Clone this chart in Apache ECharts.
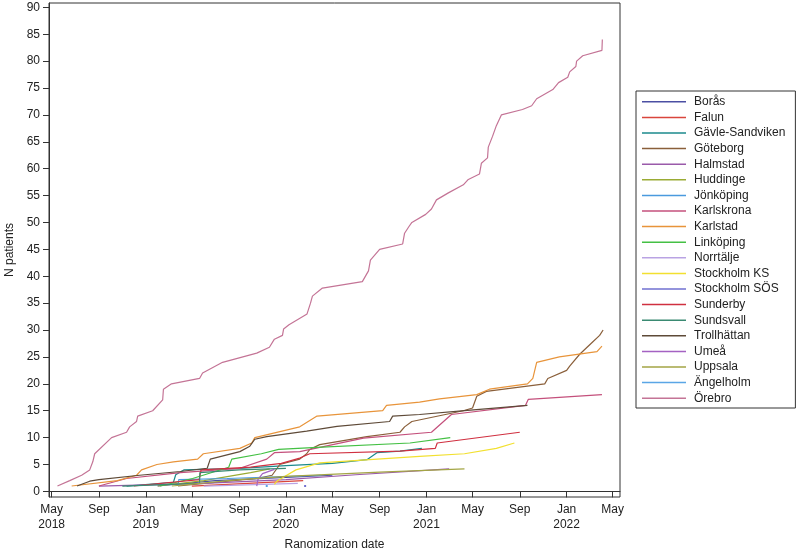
<!DOCTYPE html>
<html>
<head>
<meta charset="utf-8">
<script src="https://cdn.jsdelivr.net/npm/echarts@6/dist/echarts.min.js"></script>
<style>
  html, body { margin: 0; padding: 0; background: #fff; }
  #main { width: 800px; height: 551px; }
</style>
</head>
<body>
<div id="main"></div>
<script>
// sites, in legend order
const sites = ['Borås', 'Falun', 'Gävle-Sandviken', 'Göteborg', 'Halmstad', 'Huddinge', 'Jönköping',
  'Karlskrona', 'Karlstad', 'Linköping', 'Norrtälje', 'Stockholm KS', 'Stockholm SÖS', 'Sunderby',
  'Sundsvall', 'Trollhättan', 'Umeå', 'Uppsala', 'Ängelholm', 'Örebro'];

const colors = ['#4b4fa3', '#d9463c', '#1b8a8c', '#8a5f3a', '#9a5aaa', '#9aab34', '#4a9ade',
  '#c4507c', '#e8943a', '#44c044', '#b9a3e3', '#f2e030', '#7070d0', '#d03040',
  '#3a8a72', '#5e4a38', '#a462c2', '#a3a544', '#5aa6e6', '#c47496'];

// cumulative number of randomized patients per site, [date, N]
const boras = [['2019-02-01', 1], ['2019-07-01', 2], ['2020-01-01', 2.6], ['2020-05-01', 3]];
const falun = [['2019-05-01', 1], ['2020-02-15', 2]];
const gavle = [['2018-11-12', 1], ['2019-03-14', 1.7], ['2019-03-20', 3.1], ['2019-04-10', 4], ['2019-09-03', 4.3],
  ['2020-01-01', 4.8], ['2020-05-01', 5.2], ['2020-07-30', 5.9], ['2020-08-25', 7.2], ['2020-10-24', 7.5], ['2020-12-20', 8]];
const goteborg = [['2019-03-26', 1], ['2019-10-17', 2.4], ['2019-11-26', 3], ['2019-12-16', 5], ['2020-02-06', 6],
  ['2020-02-24', 7], ['2020-03-03', 7.8], ['2020-03-29', 8.7], ['2020-07-30', 10.2], ['2020-10-24', 11],
  ['2020-11-05', 12], ['2020-11-24', 13], ['2021-04-07', 15], ['2021-05-01', 15.5], ['2021-05-12', 17.7],
  ['2021-06-06', 18.6], ['2021-11-05', 20], ['2021-11-13', 21], ['2022-01-01', 22.5], ['2022-01-09', 23.3],
  ['2022-02-04', 25.5], ['2022-03-07', 27.6], ['2022-03-28', 29], ['2022-04-06', 30]];
const halmstad = [['2018-09-01', 1], ['2019-06-01', 1.5], ['2020-01-01', 2.2], ['2020-07-01', 3.1], ['2021-03-01', 4.2]];
const huddinge = [['2019-02-01', 1], ['2019-06-01', 2], ['2019-10-01', 3.5], ['2019-11-20', 4.2]];
const jonkoping = [['2019-03-26', 1], ['2019-03-28', 2.2], ['2019-08-01', 2.4], ['2020-04-01', 3]];
const karlskrona = [['2018-09-01', 1], ['2018-11-12', 2.4], ['2019-04-01', 3.5], ['2019-09-03', 4.3], ['2019-11-12', 6],
  ['2019-12-02', 7.2], ['2020-02-06', 7.4], ['2020-07-21', 9.9], ['2021-01-14', 11], ['2021-03-07', 14.3],
  ['2021-09-16', 16], ['2021-09-23', 17.1], ['2022-04-03', 18]];
const karlstad = [['2018-06-22', 1], ['2018-10-19', 2], ['2018-12-08', 3], ['2018-12-21', 4], ['2019-01-30', 5],
  ['2019-03-14', 5.5], ['2019-05-16', 6], ['2019-05-31', 7], ['2019-09-03', 8], ['2019-10-04', 9],
  ['2019-10-12', 10], ['2020-02-06', 12], ['2020-03-22', 14], ['2020-09-09', 15], ['2020-09-19', 16],
  ['2020-12-14', 16.6], ['2021-02-04', 17.2], ['2021-05-12', 18], ['2021-06-14', 19], ['2021-09-21', 20],
  ['2021-10-05', 21], ['2021-10-15', 24], ['2021-12-13', 25], ['2022-03-21', 26], ['2022-04-03', 27]];
const linkoping = [['2019-02-07', 1], ['2019-05-03', 2.4], ['2019-08-05', 4.5], ['2019-08-13', 6], ['2019-10-29', 7],
  ['2019-12-13', 7.8], ['2019-12-18', 8.1], ['2020-03-22', 8.2], ['2020-11-19', 9], ['2021-03-04', 10]];
const norrtalje = [['2019-06-01', 1], ['2020-02-01', 1.5]];
const stockholmKS = [['2019-12-02', 1.3], ['2019-12-10', 2], ['2020-01-27', 4], ['2020-03-29', 5.3], ['2020-12-14', 6.5],
  ['2021-04-10', 7], ['2021-07-02', 8], ['2021-08-18', 9]];
const stockholmSOS = [['2020-02-20', 1]];
const sunderby = [['2018-12-01', 1], ['2019-05-20', 2.2], ['2019-05-25', 4], ['2019-10-01', 4.5], ['2019-12-20', 5.2],
  ['2020-02-06', 6.2], ['2020-03-03', 7], ['2020-10-24', 7.5], ['2021-01-24', 8], ['2021-01-29', 9], ['2021-09-01', 11]];
const sundsvall = [['2018-11-01', 1], ['2019-05-21', 1.5], ['2019-05-22', 3.5], ['2019-09-01', 4], ['2020-01-01', 4.3]];
const trollhattan = [['2018-07-06', 1], ['2018-08-08', 1.9], ['2018-09-01', 2.2], ['2018-12-16', 3], ['2019-04-01', 3.7],
  ['2019-06-10', 4.3], ['2019-06-18', 6], ['2019-09-03', 7.4], ['2019-09-29', 8.4], ['2019-10-12', 9.7],
  ['2019-11-12', 10.2], ['2020-02-24', 11.2], ['2020-05-13', 12.1], ['2020-09-27', 13], ['2020-10-05', 14],
  ['2020-12-14', 14.3], ['2021-04-10', 15], ['2021-09-21', 16]];
const umea = [['2019-10-17', 1], ['2019-10-20', 2.2], ['2019-11-01', 3.3], ['2019-12-02', 4.1]];
const uppsala = [['2019-03-10', 1], ['2019-09-01', 2.2], ['2020-01-01', 2.8], ['2020-09-01', 3.6], ['2021-04-10', 4.2]];
const angelholm = [['2019-11-12', 1]];
const orebro = [['2018-05-16', 1], ['2018-06-17', 2], ['2018-07-18', 3], ['2018-08-08', 4], ['2018-08-16', 5.5],
  ['2018-08-21', 7], ['2018-10-04', 10], ['2018-11-12', 11], ['2018-11-20', 12], ['2018-12-08', 13],
  ['2018-12-11', 14], ['2019-01-19', 15], ['2019-02-14', 17], ['2019-02-16', 19], ['2019-03-09', 20],
  ['2019-05-21', 21], ['2019-05-29', 22], ['2019-07-20', 24], ['2019-10-17', 25.7], ['2019-11-19', 26.8],
  ['2019-12-02', 28.3], ['2019-12-23', 29], ['2019-12-26', 30.2], ['2020-01-09', 31], ['2020-02-25', 33],
  ['2020-03-05', 35], ['2020-03-10', 36.3], ['2020-04-05', 37.8], ['2020-07-18', 39], ['2020-08-03', 41],
  ['2020-08-08', 43], ['2020-09-01', 45], ['2020-10-31', 46], ['2020-11-05', 48], ['2020-11-16', 49.2],
  ['2020-11-24', 50], ['2020-12-30', 51.5], ['2021-01-14', 52.5], ['2021-01-27', 54.2], ['2021-02-27', 55.5],
  ['2021-04-07', 57], ['2021-04-20', 58], ['2021-05-19', 59], ['2021-05-24', 61], ['2021-06-09', 62],
  ['2021-06-11', 64], ['2021-06-22', 66], ['2021-07-02', 68], ['2021-07-15', 70], ['2021-09-08', 71],
  ['2021-10-02', 71.7], ['2021-10-15', 73], ['2021-11-26', 74.7], ['2021-12-11', 76], ['2022-01-04', 77],
  ['2022-01-09', 78], ['2022-01-25', 79], ['2022-01-27', 80], ['2022-02-12', 81], ['2022-04-03', 82], ['2022-04-04', 84]];

const siteData = [boras, falun, gavle, goteborg, halmstad, huddinge, jonkoping, karlskrona, karlstad, linkoping,
  norrtalje, stockholmKS, stockholmSOS, sunderby, sundsvall, trollhattan, umea, uppsala, angelholm, orebro];

// axis ticks
const tickDates = ['2018-05-01', '2018-09-01', '2019-01-01', '2019-05-01', '2019-09-01', '2020-01-01', '2020-05-01',
  '2020-09-01', '2021-01-01', '2021-05-01', '2021-09-01', '2022-01-01', '2022-05-01'];
const tickLabels = ['May\n2018', 'Sep', 'Jan\n2019', 'May', 'Sep', 'Jan\n2020', 'May', 'Sep', 'Jan\n2021', 'May', 'Sep', 'Jan\n2022', 'May'];
const yTicks = [0, 5, 10, 15, 20, 25, 30, 35, 40, 45, 50, 55, 60, 65, 70, 75, 80, 85, 90];

// dates as day numbers (UTC days since epoch) for a plain value axis
function toDay(s) {
  const p = s.split('-');
  return Date.UTC(+p[0], +p[1] - 1, +p[2]) / 86400000;
}
const tickDays = tickDates.map(toDay);
const labelOf = {};
tickDays.forEach((t, i) => { labelOf[t] = tickLabels[i]; });

const font = 'Liberation Sans, Arial, sans-serif';

var myChart = echarts.init(document.getElementById('main'));
myChart.setOption({
  animation: false,
  color: colors,
  textStyle: { fontFamily: font },
  grid: {
    left: 49, right: 180, top: 3, bottom: 54,
    outerBoundsMode: 'none',
    show: true, borderColor: '#333', borderWidth: 1
  },
  legend: {
    orient: 'vertical',
    left: 636, top: 91,
    icon: 'rect',
    itemWidth: 44, itemHeight: 1.5,
    itemGap: 0,
    padding: [3, 10, 2, 6],
    borderColor: '#333', borderWidth: 1,
    textStyle: { fontSize: 12, color: '#222', lineHeight: 15.6, padding: [0, 0, 0, 3], fontFamily: font },
    data: sites
  },
  xAxis: {
    type: 'value',
    min: toDay('2018-04-24'),
    max: toDay('2022-05-20'),
    name: 'Ranomization date',
    nameLocation: 'middle',
    nameGap: 42,
    nameTextStyle: { fontSize: 12, color: '#222' },
    axisLine: { show: true, lineStyle: { color: '#333' } },
    axisTick: { show: true, length: 6, customValues: tickDays, lineStyle: { color: '#333' } },
    axisLabel: {
      customValues: tickDays,
      fontSize: 12, color: '#222', lineHeight: 15, margin: 5,
      formatter: (v) => labelOf[v] || ''
    },
    splitLine: { show: false }
  },
  yAxis: {
    type: 'value',
    min: -1.04, max: 90.8,
    name: 'N patients',
    nameLocation: 'middle',
    nameGap: 33,
    nameTextStyle: { fontSize: 12, color: '#222' },
    axisLine: { show: true, lineStyle: { color: '#333' } },
    axisTick: { show: true, length: 6, customValues: yTicks, lineStyle: { color: '#333' } },
    axisLabel: { customValues: yTicks, fontSize: 12, color: '#222', margin: 9 },
    splitLine: { show: false }
  },
  series: sites.map((name, i) => ({
    name: name,
    type: 'line',
    data: siteData[i].map(d => [toDay(d[0]), d[1]]),
    showSymbol: siteData[i].length === 1,
    symbol: 'rect',
    symbolSize: 2,
    lineStyle: { width: 1.2 },
    emphasis: { disabled: true }
  }))
});
</script>
</body>
</html>
